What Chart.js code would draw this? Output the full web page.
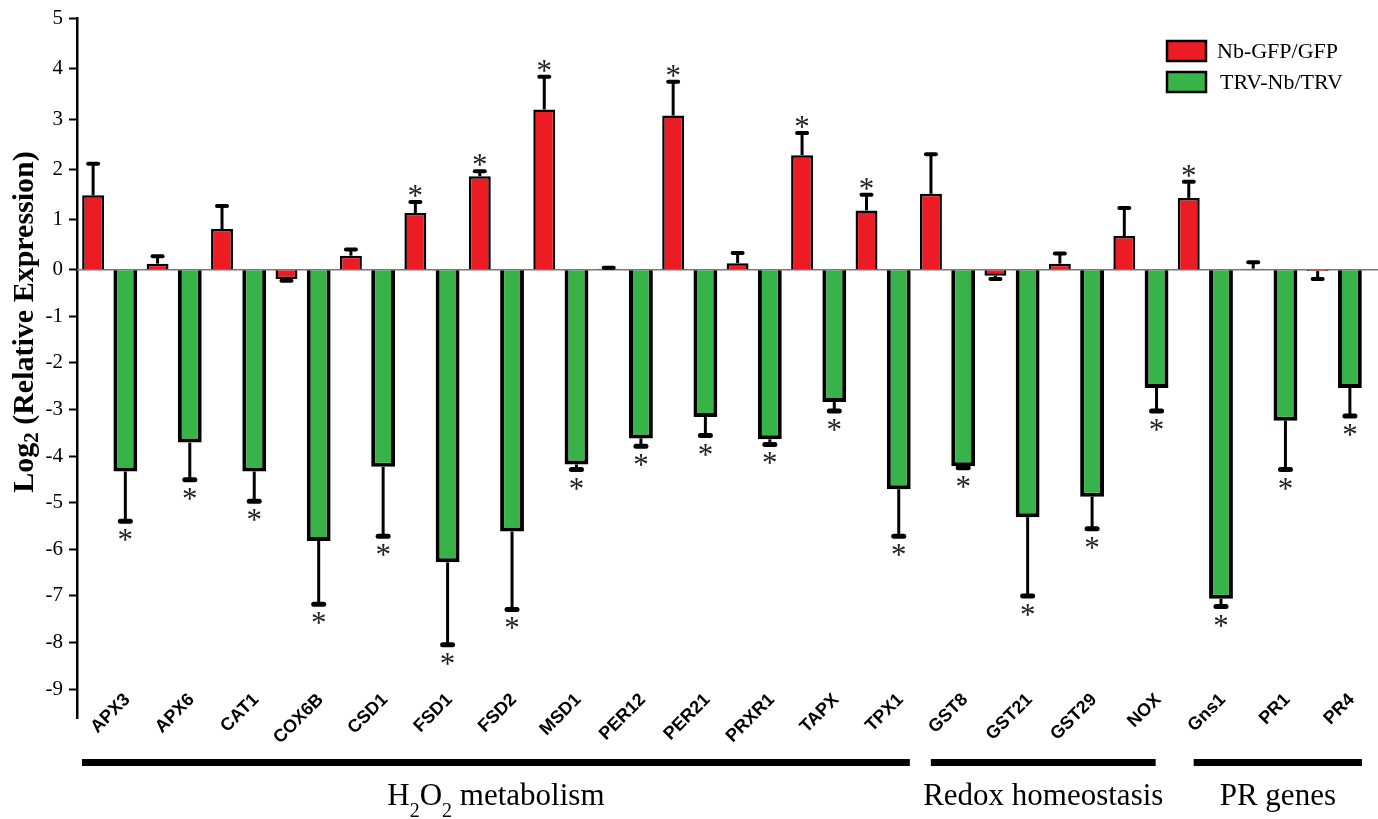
<!DOCTYPE html>
<html>
<head>
<meta charset="utf-8">
<script src="https://cdn.jsdelivr.net/npm/chart.js@4.4.1/dist/chart.umd.min.js"></script>
<style>
  html, body { margin: 0; padding: 0; background: #fff; }
</style>
</head>
<body>
<canvas id="graficoBarras" width="1378" height="819"></canvas>
<script>
// Datos
const genes = ['APX3', 'APX6', 'CAT1', 'COX6B', 'CSD1', 'FSD1', 'FSD2', 'MSD1', 'PER12', 'PER21',
  'PRXR1', 'TAPX', 'TPX1', 'GST8', 'GST21', 'GST29', 'NOX', 'Gns1', 'PR1', 'PR4']
const seriesNames = ['Nb-GFP/GFP', 'TRV-Nb/TRV']

const nbGfp = [1.48, 0.12, 0.81, -0.2, 0.28, 1.13, 1.86, 3.19, 0.02, 3.07,
  0.13, 2.28, 1.18, 1.51, -0.13, 0.12, 0.67, 1.43, 0.02, -0.03]
const nbGfpErr = [0.63, 0.15, 0.46, 0.04, 0.12, 0.22, 0.1, 0.65, 0.02, 0.67,
  0.2, 0.44, 0.31, 0.79, 0.07, 0.2, 0.56, 0.32, 0.13, 0.17]
const nbGfpSig = [0, 0, 0, 0, 0, 1, 1, 1, 0, 1, 0, 1, 1, 0, 0, 0, 0, 1, 0, 0]

const trvNb = [-4.33, -3.71, -4.33, -5.82, -4.23, -6.28, -5.62, -4.18, -3.62, -3.16,
  -3.64, -2.84, -4.71, -4.22, -5.31, -4.87, -2.54, -7.06, -3.24, -2.54]
const trvNbErr = [1.07, 0.8, 0.64, 1.36, 1.49, 1.77, 1.67, 0.11, 0.17, 0.4,
  0.11, 0.19, 1.01, 0.03, 1.69, 0.69, 0.49, 0.17, 1.05, 0.6]
const trvNbSig = [1, 1, 1, 1, 1, 1, 1, 1, 1, 1, 1, 1, 1, 1, 1, 1, 1, 1, 1, 1]

const yTicks = [5, 4, 3, 2, 1, 0, -1, -2, -3, -4, -5, -6, -7, -8, -9]

// grupos de genes (indice primero / ultimo)
const groupLabels = ['H_2O_2 metabolism', 'Redox homeostasis', 'PR genes']
const groupFirst = [0, 13, 17]
const groupLast = [12, 16, 19]

const yTitle = 'Log_2 (Relative Expression)'

// estilos de los grupos (recorte en px a cada lado)
const groupInset = [[5, 5], [16, 17], [21, 4]]

// Escala lineal con el lado negativo algo comprimido (como en la figura original)
class SplitLinearScale extends Chart.LinearScale {
  static id = 'splitLinear'
  _zeroDec() {
    const r = this.options.negRatio ?? 1
    const neg = Math.abs(this.min) * r
    return neg / (neg + this.max)
  }
  getPixelForValue(value) {
    if (value === null || isNaN(value)) return NaN
    const z = this._zeroDec()
    const dec = value >= 0 ? z + (1 - z) * value / this.max : z - z * value / this.min
    return this.getPixelForDecimal(dec)
  }
  getValueForPixel(pixel) {
    const z = this._zeroDec()
    const dec = this.getDecimalForPixel(pixel)
    return dec >= z ? (dec - z) / (1 - z) * this.max : (z - dec) / z * this.min
  }
}
Chart.register(SplitLinearScale)

// texto con subindices (_2)
const drawRich = (ctx, str, x, y, size, subSize, drop, weight) => {
  const parts = []
  str.split(/(_\d)/).forEach(p => {
    if (!p) return
    if (p[0] === '_') parts.push({ t: p.slice(1), sub: true })
    else parts.push({ t: p, sub: false })
  })
  const fnt = s => `${weight} ${s}px "Liberation Serif", "Times New Roman", serif`
  let w = 0
  parts.forEach(p => { ctx.font = fnt(p.sub ? subSize : size); p.w = ctx.measureText(p.t).width; w += p.w })
  let cx = x - w / 2
  ctx.textAlign = 'left'
  ctx.textBaseline = 'alphabetic'
  parts.forEach(p => {
    ctx.font = fnt(p.sub ? subSize : size)
    ctx.fillText(p.t, cx, y + (p.sub ? drop : 0))
    cx += p.w
  })
}

const zeroLine = {
  id: 'zeroLine',
  beforeDatasetsDraw(chart) {
    const { ctx, chartArea } = chart
    const y0 = chart.scales.y.getPixelForValue(0)
    ctx.save()
    ctx.strokeStyle = '#777'
    ctx.lineWidth = 1.5
    ctx.beginPath()
    ctx.moveTo(chartArea.left, y0)
    ctx.lineTo(chart.width, y0)
    ctx.stroke()
    ctx.restore()
  }
}

const errorBars = {
  id: 'errorBars',
  afterDatasetsDraw(chart) {
    const ctx = chart.ctx
    const yScale = chart.scales.y
    ctx.save()
    chart.data.datasets.forEach((ds, di) => {
      const meta = chart.getDatasetMeta(di)
      const capW = di === 0 ? 4 : 5
      meta.data.forEach((bar, i) => {
        const v = ds.data[i]
        const e = ds.errors[i]
        const dir = v < 0 ? -1 : 1
        const yEnd = yScale.getPixelForValue(v)
        const yCap = yScale.getPixelForValue(v + dir * e)
        ctx.strokeStyle = '#000'
        ctx.lineCap = 'butt'
        ctx.lineWidth = 3
        ctx.beginPath()
        ctx.moveTo(bar.x, yEnd)
        ctx.lineTo(bar.x, yCap)
        ctx.stroke()
        ctx.lineCap = 'round'
        ctx.lineWidth = capW
        ctx.beginPath()
        ctx.moveTo(bar.x - 5, yCap)
        ctx.lineTo(bar.x + 5, yCap)
        ctx.stroke()
        if (ds.sig[i]) {
          ctx.font = '31px "Liberation Serif", serif'
          ctx.fillStyle = '#222'
          ctx.textAlign = 'center'
          ctx.textBaseline = 'alphabetic'
          const m = ctx.measureText('*')
          const cy = dir > 0 ? yCap - 11 : yCap + 14
          ctx.fillText('*', bar.x, cy + (m.actualBoundingBoxAscent - m.actualBoundingBoxDescent) / 2)
        }
      })
    })
    ctx.restore()
  }
}

const extras = {
  id: 'extras',
  afterDraw(chart) {
    const ctx = chart.ctx
    const x = chart.scales.x
    const half = (x.getPixelForValue(1) - x.getPixelForValue(0)) / 2
    ctx.save()
    // etiquetas de genes (giradas, se meten en el area del grafico)
    ctx.fillStyle = '#000'
    ctx.font = 'bold 18px "Liberation Sans", Arial, sans-serif'
    ctx.textAlign = 'right'
    ctx.textBaseline = 'middle'
    genes.forEach((g, i) => {
      ctx.save()
      ctx.translate(x.getPixelForValue(i) + 18, 697)
      ctx.rotate(-Math.PI / 4)
      ctx.fillText(g, 0, 0)
      ctx.restore()
    })
    // barras de grupo y etiquetas
    groupLabels.forEach((lab, g) => {
      const x1 = x.getPixelForValue(groupFirst[g]) - half + groupInset[g][0]
      const x2 = x.getPixelForValue(groupLast[g]) + half - groupInset[g][1]
      ctx.fillRect(x1, 759, x2 - x1, 7)
      drawRich(ctx, lab, (x1 + x2) / 2, 805, 31, 20, 12, 'normal')
    })
    // titulo eje y
    ctx.save()
    ctx.translate(33, 322)
    ctx.rotate(-Math.PI / 2)
    drawRich(ctx, yTitle, 0, 0, 30, 21, 5, 'bold')
    ctx.restore()
    // leyenda
    chart.data.datasets.forEach((ds, i) => {
      const top = 41 + i * 31
      ctx.fillStyle = ds.backgroundColor
      ctx.fillRect(1167, top, 39, 20)
      ctx.strokeStyle = '#000'
      ctx.lineWidth = 2.5
      ctx.strokeRect(1167, top, 39, 20)
      ctx.fillStyle = '#000'
      ctx.font = '22px "Liberation Serif", serif'
      ctx.textAlign = 'left'
      ctx.textBaseline = 'alphabetic'
      ctx.fillText(ds.label, 1217 + i * 3, top + 17)
    })
    ctx.restore()
  }
}

const canvas = document.getElementById('graficoBarras')
const barChart = new Chart(canvas, {
  type: 'bar',
  data: {
    labels: genes,
    datasets: [
      {
        label: seriesNames[0],
        data: nbGfp,
        errors: nbGfpErr,
        sig: nbGfpSig,
        backgroundColor: '#ed1c24',
        borderColor: '#000',
        borderWidth: 2.5,
        barPercentage: 0.68,
        categoryPercentage: 1
      },
      {
        label: seriesNames[1],
        data: trvNb,
        errors: trvNbErr,
        sig: trvNbSig,
        backgroundColor: '#37b34a',
        borderColor: '#000',
        borderWidth: 4,
        barPercentage: 0.74,
        categoryPercentage: 1
      }
    ]
  },
  options: {
    responsive: false,
    animation: false,
    layout: { padding: { top: 18, right: 12, left: 0, bottom: 0 } },
    plugins: {
      legend: { display: false },
      tooltip: { enabled: false }
    },
    scales: {
      x: {
        grid: { display: false },
        border: { display: false },
        afterFit: s => { s.height = 101 },
        ticks: { display: false }
      },
      y: {
        type: 'splitLinear',
        min: -9.62,
        max: 5,
        negRatio: 0.928,
        afterBuildTicks: s => { s.ticks = yTicks.map(v => ({ value: v })) },
        afterFit: s => { s.width = 77 },
        border: { display: true, color: '#000', width: 2.5 },
        grid: { drawOnChartArea: false, drawTicks: true, tickLength: 8, tickColor: '#000', tickWidth: 2 },
        ticks: {
          color: '#000',
          padding: 6,
          font: { family: '"Liberation Serif", serif', size: 21 }
        }
      }
    }
  },
  plugins: [zeroLine, errorBars, extras]
})
</script>
</body>
</html>
